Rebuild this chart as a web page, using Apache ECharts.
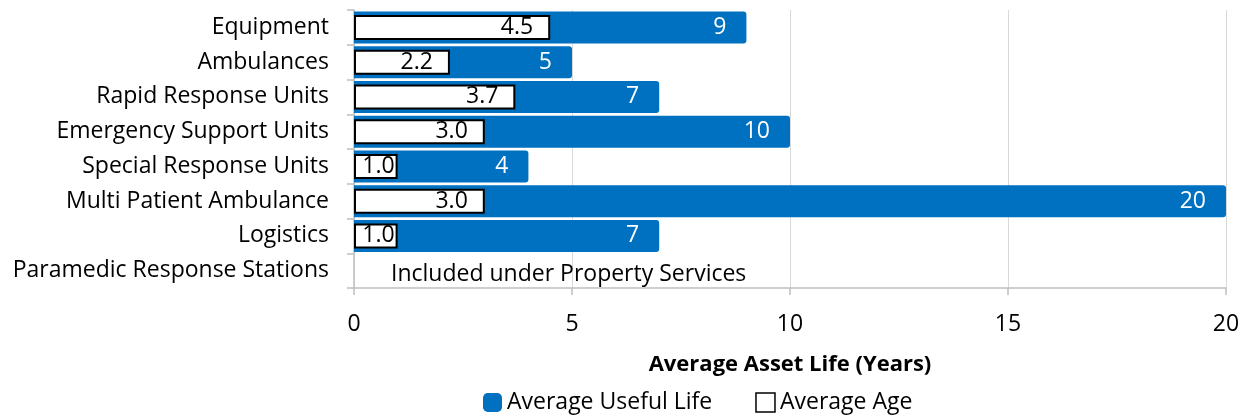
<!DOCTYPE html>
<html><head><meta charset="utf-8">
<script src="https://cdn.jsdelivr.net/npm/echarts@6/dist/echarts.min.js"></script>
<style>html,body{margin:0;padding:0;background:#fff}#c{width:1249px;height:417px}</style>
</head><body><div id="c"></div>
<script>
const categories = ['Equipment','Ambulances','Rapid Response Units','Emergency Support Units','Special Response Units','Multi Patient Ambulance','Logistics','Paramedic Response Stations'];
const usefulLife = [9, 5, 7, 10, 4, 20, 7, 0];
const averageAge = [4.5, 2.2, 3.7, 3.0, 1.0, 3.0, 1.0, null];
const noteLabel = 'Included under Property Services';
const xTicks = [0, 5, 10, 15, 20];

const FONT = 'Open Sans';
const FS = 23;
const chart = echarts.init(document.getElementById('c'));
chart.setOption({
  animation: false,
  textStyle: { fontFamily: FONT, color: '#000' },
  grid: { left: 354, right: 23, top: 10, bottom: 129, containLabel: false },
  legend: {
    bottom: -2, left: 478, itemWidth: 19, itemHeight: 19, itemGap: 43,
    textStyle: { fontFamily: FONT, fontSize: FS, color: '#000' },
    data: [
      { name: 'Average Useful Life', icon: 'roundRect', itemStyle: { color: '#0070C0', borderWidth: 0 } },
      { name: 'Average Age', icon: 'rect', itemStyle: { color: '#fff', borderColor: '#000', borderWidth: 1.5 } }
    ]
  },
  xAxis: {
    type: 'value', min: xTicks[0], max: xTicks[xTicks.length - 1], interval: 5,
    name: 'Average Asset Life (Years)', nameLocation: 'middle', nameGap: 66,
    nameTextStyle: { fontFamily: FONT, fontSize: 22, fontWeight: 'bold', color: '#000' },
    axisLine: { show: true, lineStyle: { color: '#bfbfbf', width: 1.5 } },
    axisTick: { show: true, length: 7, lineStyle: { color: '#bfbfbf', width: 1.5 } },
    axisLabel: { fontSize: FS, color: '#000', margin: 25 },
    splitLine: { show: true, lineStyle: { color: '#d9d9d9', width: 1 } }
  },
  yAxis: [{
    type: 'category', data: categories, inverse: true,
    axisLine: { show: true, lineStyle: { color: '#bfbfbf', width: 1.5 } },
    axisTick: { show: true, length: 7, lineStyle: { color: '#bfbfbf', width: 1.5 } },
    axisLabel: { fontSize: FS, color: '#000', margin: 25 }
  }, {
    type: 'category', data: categories, inverse: true, show: false
  }],
  series: [{
    name: 'Average Useful Life', type: 'bar', yAxisIndex: 0, barWidth: 32,
    itemStyle: { color: '#0070C0', borderRadius: [0, 3, 3, 0] },
    data: usefulLife.map((v, i) => {
      if (i === categories.length - 1) {
        return { value: v, label: { show: true, position: 'right', distance: 37, color: '#000', fontSize: FS, formatter: noteLabel, offset: [0, 4] } };
      }
      return v;
    }),
    label: { show: true, position: 'insideRight', distance: 20, color: '#fff', fontSize: FS, fontFamily: FONT }
  }, {
    name: 'Average Age', type: 'bar', yAxisIndex: 1, barWidth: 25, z: 3,
    itemStyle: { color: '#fff', borderColor: '#000', borderWidth: 2 },
    data: averageAge.map(v => v == null ? null : { value: v, label: { distance: v < 1.5 ? 3 : 17 } }),
    label: { show: true, position: 'insideRight', color: '#000', fontSize: FS, fontFamily: FONT,
      formatter: p => p.value.toFixed(1) }
  }]
});
</script></body></html>
